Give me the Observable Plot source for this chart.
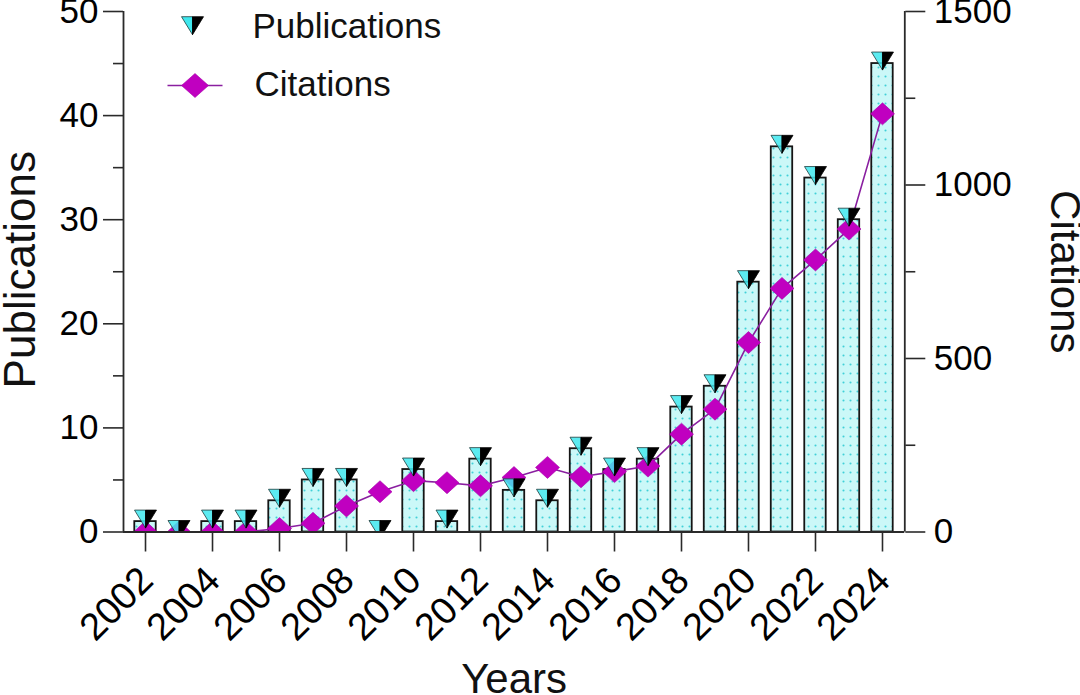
<!DOCTYPE html>
<html><head><meta charset="utf-8">
<script src="https://cdn.jsdelivr.net/npm/d3@7"></script>
<script src="https://cdn.jsdelivr.net/npm/@observablehq/plot@0.6"></script>
<style>
html,body{margin:0;padding:0;background:#fff;}
#chart{width:1080px;height:695px;overflow:hidden;}
svg{font-family:"Liberation Sans",Arial,sans-serif;}
</style></head><body><div id="chart"></div>
<script>
const years = [2002,2003,2004,2005,2006,2007,2008,2009,2010,2011,2012,2013,2014,2015,2016,2017,2018,2019,2020,2021,2022,2023,2024];
const publications = [1,0,1,1,3,5,5,0,6,1,7,4,3,8,6,7,12,14,24,37,34,30,45];
const citations = [0,0,0,0,10,25,75,116,148,142,133,157,186,159,174,190,282,354,546,702,784,873,1205];
const pubTicks = [0,10,20,30,40,50];
const pubMinorTicks = [5,15,25,35,45];
const citTicks = [0,500,1000,1500];
const citMinorTicks = [250,750,1250];
const yearTicks = [2002,2004,2006,2008,2010,2012,2014,2016,2018,2020,2022,2024];
const seriesNames = ["Publications","Citations"];
const axisTitles = {left:"Publications", right:"Citations", bottom:"Years"};
const ratio = 1500 / 50; // citations axis max / publications axis max

const rows = years.map((year, i) => ({year, pub: publications[i], cit: citations[i]}));

const triLeft = {draw(c){ c.moveTo(-11,-11.5); c.lineTo(0,-11.5); c.lineTo(0,6.5); c.closePath(); }};
const triRight = {draw(c){ c.moveTo(0,-11.5); c.lineTo(11,-11.5); c.lineTo(0,6.5); c.closePath(); }};
const diamond = {draw(c){ c.moveTo(0,-11); c.lineTo(12,0); c.lineTo(0,11); c.lineTo(-12,0); c.closePath(); }};
const legendDiamond = {draw(c){ c.moveTo(0,-12); c.lineTo(13.5,0); c.lineTo(0,12); c.lineTo(-13.5,0); c.closePath(); }};
const legendLine = {draw(c){ c.moveTo(-27.5,0); c.lineTo(27.5,0); }};

const CYAN = "#3fe8ee", MAG = "#c000c0", LINE = "#8a1fa0", AX = "#2a2a2a";
const tickFont = 35;

const svg = Plot.plot({
  width: 1080, height: 695,
  marginTop: 11, marginBottom: 163.5, marginLeft: 123, marginRight: 175.7,
  style: {fontFamily: '"Liberation Sans", Arial, sans-serif', color: "#000", background: "#fff"},
  x: {type: "linear", domain: [2001.343, 2024.666]},
  y: {domain: [0, 50]},
  marks: [
    Plot.rectY(rows, {x1: d => d.year - 0.32, x2: d => d.year + 0.32, y: "pub", fill: "url(#dotpat)", stroke: "#151515", strokeWidth: 1.8}),
    Plot.line(rows, {x: "year", y: d => d.cit / ratio, stroke: LINE, strokeWidth: 1.6, clip: true}),
    Plot.dot(rows, {x: "year", y: d => d.cit / ratio, symbol: diamond, fill: MAG, stroke: "#a400a8", strokeWidth: 0.6, clip: true}),
    Plot.dot(rows, {x: "year", y: "pub", symbol: triLeft, fill: CYAN, fillOpacity: 0.85, stroke: "#1d3b3b", strokeWidth: 0.8, clip: true}),
    Plot.dot(rows, {x: "year", y: "pub", symbol: triRight, fill: "#000", stroke: "#000", strokeWidth: 0.8, clip: true}),
    // axis lines
    Plot.ruleX([2001.343, 2024.666], {stroke: AX, strokeWidth: 1.8}),
    Plot.ruleY([0], {stroke: AX, strokeWidth: 1.8}),
    // left axis
    Plot.axisY({anchor: "left", ticks: pubTicks, tickSize: 20, tickPadding: 5, fontSize: tickFont, label: null, stroke: AX, strokeWidth: 1.6, fill: "#000"}),
    Plot.axisY({anchor: "left", ticks: pubMinorTicks, tickSize: 10, tickFormat: () => "", label: null, stroke: AX, strokeWidth: 1.6}),
    // right axis
    Plot.axisY({anchor: "right", ticks: citTicks.map(c => c / ratio), tickFormat: d => String(Math.round(d * ratio)), tickSize: 20, tickPadding: 9, fontSize: tickFont, label: null, stroke: AX, strokeWidth: 1.6, fill: "#000"}),
    Plot.axisY({anchor: "right", ticks: citMinorTicks.map(c => c / ratio), tickSize: 10, tickFormat: () => "", label: null, stroke: AX, strokeWidth: 1.6}),
    // bottom axis ticks and rotated labels
    Plot.axisX({ticks: yearTicks, tickSize: 20, tickFormat: () => "", label: null, stroke: AX, strokeWidth: 1.6}),
    Plot.axisX({ticks: yearTicks, tickFormat: "d", tickSize: 0, tickPadding: 42, tickRotate: -45, fontSize: 38, dx: 1, label: null, fill: "#000"}),
    // legend
    Plot.dot([0], {frameAnchor: "top-left", dx: 69, dy: 16.7, symbol: triLeft, fill: CYAN, stroke: "#1d3b3b", strokeWidth: 0.8}),
    Plot.dot([0], {frameAnchor: "top-left", dx: 69, dy: 16.7, symbol: triRight, fill: "#000", stroke: "#000", strokeWidth: 0.8}),
    Plot.text([seriesNames[0]], {frameAnchor: "top-left", dx: 129, dy: 15, textAnchor: "start", lineAnchor: "middle", fontSize: 35, fill: "#111"}),
    Plot.dot([0], {frameAnchor: "top-left", dx: 71.5, dy: 74, symbol: legendLine, fill: "none", stroke: LINE, strokeWidth: 1.6}),
    Plot.dot([0], {frameAnchor: "top-left", dx: 71.5, dy: 74, symbol: legendDiamond, fill: MAG, stroke: "#a400a8", strokeWidth: 0.6}),
    Plot.text([seriesNames[1]], {frameAnchor: "top-left", dx: 131, dy: 73.5, textAnchor: "start", lineAnchor: "middle", fontSize: 35, fill: "#111"}),
    // axis titles
    Plot.text([axisTitles.left], {frameAnchor: "left", dx: -89, dy: -2, rotate: -90, lineAnchor: "bottom", textAnchor: "middle", fontSize: 44, fill: "#111"}),
    Plot.text([axisTitles.right], {frameAnchor: "right", dx: 146, rotate: 90, lineAnchor: "bottom", textAnchor: "middle", fontSize: 42, fill: "#111"}),
    Plot.text([axisTitles.bottom], {frameAnchor: "bottom", dy: 161, lineAnchor: "bottom", textAnchor: "middle", fontSize: 42, fill: "#111"})
  ]
});

const defs = d3.select(svg).insert("defs", ":first-child");
const pat = defs.append("pattern").attr("id", "dotpat").attr("patternUnits", "userSpaceOnUse").attr("width", 7).attr("height", 9);
pat.append("rect").attr("width", 7).attr("height", 9).attr("fill", "#cbf8f8");
pat.append("circle").attr("cx", 3.5).attr("cy", 4.5).attr("r", 1.05).attr("fill", "#40d0d8");

document.getElementById("chart").appendChild(svg);
</script>
</body></html>
